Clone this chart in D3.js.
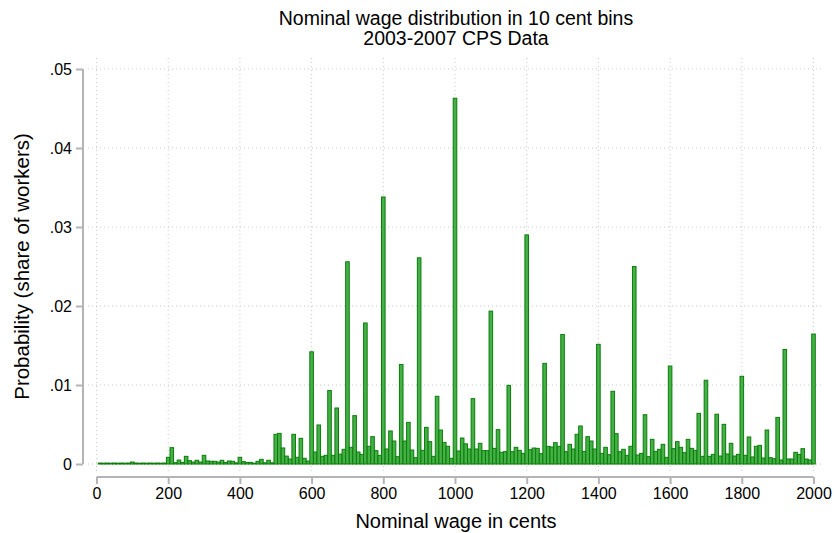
<!DOCTYPE html>
<html>
<head>
<meta charset="utf-8">
<script src="https://cdn.jsdelivr.net/npm/d3@7"></script>
<style>
  html, body { margin: 0; padding: 0; background: #fff; }
  svg { display: block; font-family: "Liberation Sans", Arial, Helvetica, sans-serif; }
</style>
</head>
<body>
<svg id="chart" width="834" height="533"></svg>
<script>
// ---- data ----
const titleLines = ["Nominal wage distribution in 10 cent bins", "2003-2007 CPS Data"];
const xTitle = "Nominal wage in cents";
const yTitle = "Probability (share of workers)";

// bin centres: 10, 20, ..., 2000 (cents)
const binCenters = d3.range(10, 2001, 10);

// share of workers in each bin (x 0.001)
const sharePerMille = [
  0.12,0.10,0.12,0.10,0.12,0.10,0.12,0.10,0.12,0.25,
  0.12,0.10,0.12,0.10,0.12,0.10,0.12,0.10,0.12,0.85,
  2.07,0.17,0.50,0.20,0.97,0.42,0.25,0.47,0.25,1.10,
  0.38,0.34,0.34,0.25,0.47,0.20,0.38,0.34,0.15,0.85,
  0.30,0.20,0.20,0.10,0.34,0.59,0.15,0.47,0.15,3.76,
  3.88,2.03,1.00,0.63,3.76,0.85,3.25,0.72,0.38,14.2,
  1.52,4.94,0.97,1.10,9.30,1.10,7.09,1.25,1.86,25.6,
  2.11,6.12,1.52,1.22,17.85,2.24,3.46,1.69,1.10,33.8,
  1.90,4.18,2.91,0.93,12.6,2.91,5.27,1.77,0.80,26.1,
  1.73,4.64,2.83,0.97,8.57,4.30,2.74,2.24,0.72,46.3,
  1.65,3.29,2.55,1.90,8.27,1.90,2.62,1.69,1.69,19.35,
  1.98,4.35,1.48,1.56,9.96,1.56,2.11,1.73,1.35,29.0,
  1.81,2.02,1.98,1.31,12.74,2.24,2.15,2.70,2.24,16.4,
  1.56,2.49,1.90,3.76,4.81,1.60,3.46,2.91,1.90,15.15,
  1.35,2.11,1.18,9.20,3.84,1.56,1.86,1.10,2.24,25.0,
  1.14,1.35,6.24,0.93,3.12,1.60,1.86,2.49,0.84,12.4,
  1.94,2.83,2.11,1.43,3.12,1.98,1.73,6.41,0.97,10.6,
  0.97,1.22,6.30,1.01,5.02,1.27,2.62,1.01,1.22,11.1,
  1.10,3.42,0.89,2.24,2.36,0.76,4.30,0.80,0.67,5.90,
  0.51,14.5,0.63,0.63,1.48,1.22,1.94,0.63,0.51,16.45
];
const binWidth = 10;

const xTicks = [0, 200, 400, 600, 800, 1000, 1200, 1400, 1600, 1800, 2000];
const yTicks = [0, 0.01, 0.02, 0.03, 0.04, 0.05];
const yTickLabels = ["0", ".01", ".02", ".03", ".04", ".05"];

// ---- chart ----
const bins = binCenters.map((c, i) => ({ c, p: sharePerMille[i] / 1000 }));

const svg = d3.select("#chart");
const x = d3.scaleLinear().domain([0, 2000]).range([96.5, 813.5]);
const y = d3.scaleLinear().domain([0, 0.05]).range([464, 69]);

const plotLeft = 88, plotRight = 823, plotTop = 58, plotBottom = 472;

// gridlines
const grid = svg.append("g");
grid.selectAll("line.h").data(yTicks).join("line")
  .attr("x1", plotLeft).attr("x2", plotRight)
  .attr("y1", d => y(d)).attr("y2", d => y(d))
  .attr("stroke", "#c8c8c8").attr("stroke-width", 1)
  .attr("stroke-dasharray", "1,3");
grid.selectAll("line.v").data(xTicks).join("line")
  .attr("x1", d => x(d)).attr("x2", d => x(d))
  .attr("y1", plotTop).attr("y2", plotBottom)
  .attr("stroke", "#c8c8c8").attr("stroke-width", 1)
  .attr("stroke-dasharray", "1,3");

// bars
svg.append("g").selectAll("rect").data(bins).join("rect")
  .attr("x", d => x(d.c - binWidth / 2))
  .attr("width", d => x(d.c + binWidth / 2) - x(d.c - binWidth / 2))
  .attr("y", d => y(d.p))
  .attr("height", d => Math.max(0.01, y(0) - y(d.p)))
  .attr("fill", "#45b045")
  .attr("stroke", "#0a7d0a")
  .attr("stroke-width", 1);

// y axis
const yAxis = d3.axisLeft(y).tickValues(yTicks)
  .tickFormat((d, i) => yTickLabels[i]).tickSize(7).tickPadding(4);
const gy = svg.append("g").attr("transform", "translate(83,0)").call(yAxis);
gy.select(".domain").attr("stroke", "#b4b4b4").attr("stroke-width", 2)
  .attr("d", `M0,${y(0.05)}V${y(0)}`);
gy.selectAll(".tick line").attr("stroke", "#b4b4b4").attr("stroke-width", 2);
gy.selectAll(".tick text").attr("font-size", 16).attr("fill", "#000")
  .attr("font-family", "'Liberation Sans', Arial, sans-serif");

// x axis
const xAxis = d3.axisBottom(x).tickValues(xTicks).tickSize(7).tickPadding(4)
  .tickFormat(d3.format("d"));
const gx = svg.append("g").attr("transform", "translate(0,477)").call(xAxis);
gx.select(".domain").attr("stroke", "#b4b4b4").attr("stroke-width", 2)
  .attr("d", `M${x(0)},0H${x(2000)}`);
gx.selectAll(".tick line").attr("stroke", "#b4b4b4").attr("stroke-width", 2);
gx.selectAll(".tick text").attr("font-size", 16).attr("fill", "#000")
  .attr("font-family", "'Liberation Sans', Arial, sans-serif");

// titles
svg.append("g").selectAll("text").data(titleLines).join("text")
  .attr("x", 456).attr("y", (d, i) => 25 + i * 20)
  .attr("text-anchor", "middle").attr("font-size", 19.5).attr("fill", "#000")
  .text(d => d);

svg.append("text").attr("x", 456).attr("y", 528)
  .attr("text-anchor", "middle").attr("font-size", 20).attr("fill", "#000")
  .text(xTitle);

svg.append("text")
  .attr("transform", `translate(29,${(y(0) + y(0.05)) / 2}) rotate(-90)`)
  .attr("text-anchor", "middle").attr("font-size", 20.5).attr("fill", "#000")
  .text(yTitle);
</script>
</body>
</html>
